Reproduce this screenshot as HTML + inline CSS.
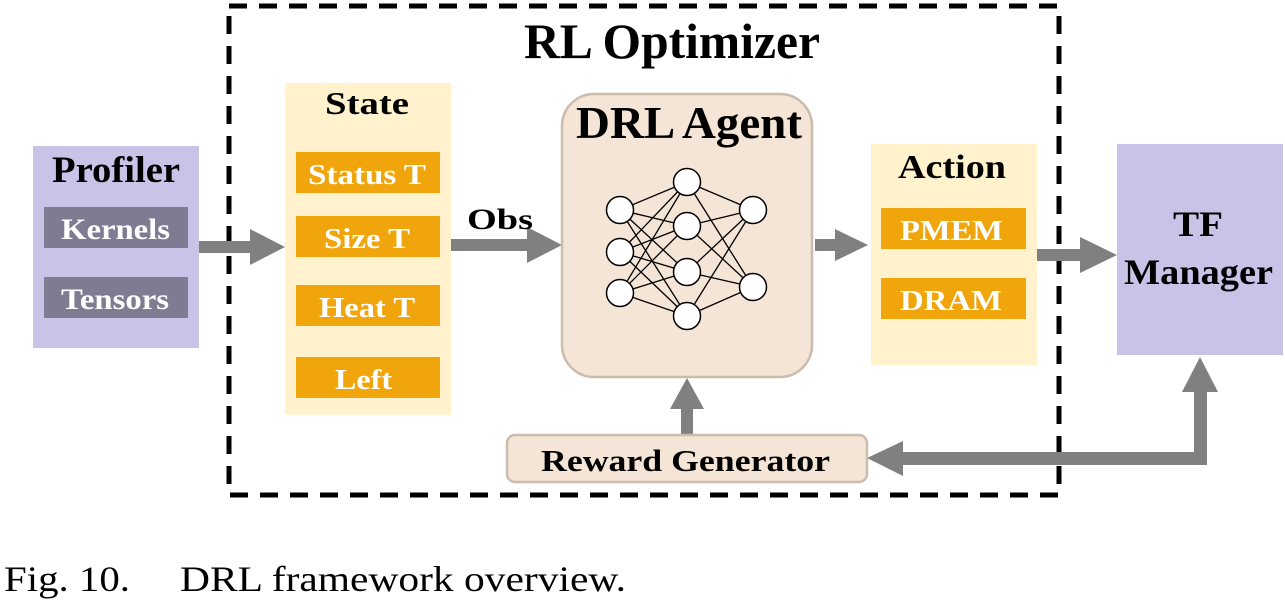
<!DOCTYPE html>
<html><head><meta charset="utf-8"><style>
html,body{margin:0;padding:0;background:#fff;}
svg{display:block;}
</style></head><body>
<svg width="1285" height="604" viewBox="0 0 1285 604" xmlns="http://www.w3.org/2000/svg" font-family="'Liberation Serif', serif" font-weight="bold">
<rect x="229" y="6" width="830" height="489" fill="none" stroke="#000" stroke-width="5" stroke-dasharray="18,12"/>
<text x="524" y="58" font-size="50" textLength="296" lengthAdjust="spacingAndGlyphs">RL Optimizer</text>

<!-- Profiler -->
<rect x="33" y="146" width="166" height="202" fill="#c9c3e8"/>
<text x="52" y="182" font-size="37" textLength="128" lengthAdjust="spacingAndGlyphs">Profiler</text>
<rect x="44" y="207" width="144" height="41" fill="#7f7b93"/>
<text x="61" y="239" font-size="30" fill="#fff" textLength="109" lengthAdjust="spacingAndGlyphs">Kernels</text>
<rect x="44" y="277" width="144" height="41" fill="#7f7b93"/>
<text x="61" y="309" font-size="30" fill="#fff" textLength="108" lengthAdjust="spacingAndGlyphs">Tensors</text>

<!-- State -->
<rect x="285" y="83" width="166" height="332" fill="#fff2cc"/>
<text x="325" y="114" font-size="32" textLength="84" lengthAdjust="spacingAndGlyphs">State</text>
<rect x="296" y="152" width="144" height="41" fill="#f0a50c"/>
<text x="308" y="184" font-size="29" fill="#fff" textLength="118" lengthAdjust="spacingAndGlyphs">Status T</text>
<rect x="296" y="216" width="144" height="41" fill="#f0a50c"/>
<text x="324" y="248" font-size="29" fill="#fff" textLength="86" lengthAdjust="spacingAndGlyphs">Size T</text>
<rect x="296" y="285" width="144" height="41" fill="#f0a50c"/>
<text x="319" y="317" font-size="29" fill="#fff" textLength="96" lengthAdjust="spacingAndGlyphs">Heat T</text>
<rect x="296" y="357" width="144" height="41" fill="#f0a50c"/>
<text x="335" y="389" font-size="29" fill="#fff" textLength="57" lengthAdjust="spacingAndGlyphs">Left</text>

<g fill="#808080">
<polygon points="199,241 250,241 250,229 285,247 250,265 250,253 199,253"/>
<polygon points="451,239 527,239 527,227 562,245 527,263 527,251 451,251"/>
<polygon points="815,239 835,239 835,229 868,245 835,261 835,251 815,251"/>
<polygon points="1037,249 1080,249 1080,237 1117,255 1080,273 1080,261 1037,261"/>
<polygon points="681,435 681,409 670,409 687,378 704,409 693,409 693,435"/>
<polygon points="1194,465 1194,392 1182,392 1200,357 1218,392 1207,392 1207,465 903,465 903,476 867,458 903,441 903,452 1194,452"/>
</g>
<text x="467" y="229" font-size="30" textLength="66" lengthAdjust="spacingAndGlyphs">Obs</text>

<!-- DRL Agent -->
<rect x="562" y="94" width="250" height="283" rx="32" fill="#f5e5d6" stroke="#cbbcae" stroke-width="2.5"/>
<text x="576" y="138" font-size="45" textLength="226" lengthAdjust="spacingAndGlyphs">DRL Agent</text>
<g stroke="#000" stroke-width="1.3">
<line x1="620" y1="210" x2="687" y2="182"/><line x1="620" y1="210" x2="687" y2="226"/><line x1="620" y1="210" x2="687" y2="272"/><line x1="620" y1="210" x2="687" y2="316"/>
<line x1="620" y1="252" x2="687" y2="182"/><line x1="620" y1="252" x2="687" y2="226"/><line x1="620" y1="252" x2="687" y2="272"/><line x1="620" y1="252" x2="687" y2="316"/>
<line x1="620" y1="293" x2="687" y2="182"/><line x1="620" y1="293" x2="687" y2="226"/><line x1="620" y1="293" x2="687" y2="272"/><line x1="620" y1="293" x2="687" y2="316"/>
<line x1="687" y1="182" x2="753" y2="210"/><line x1="687" y1="182" x2="753" y2="287"/>
<line x1="687" y1="226" x2="753" y2="210"/><line x1="687" y1="226" x2="753" y2="287"/>
<line x1="687" y1="272" x2="753" y2="210"/><line x1="687" y1="272" x2="753" y2="287"/>
<line x1="687" y1="316" x2="753" y2="210"/><line x1="687" y1="316" x2="753" y2="287"/>
</g>
<g fill="#fff" stroke="#000" stroke-width="1.5">
<circle cx="620" cy="210" r="13.5"/><circle cx="620" cy="252" r="13.5"/><circle cx="620" cy="293" r="13.5"/>
<circle cx="687" cy="182" r="13.5"/><circle cx="687" cy="226" r="13.5"/><circle cx="687" cy="272" r="13.5"/><circle cx="687" cy="316" r="13.5"/>
<circle cx="753" cy="210" r="13.5"/><circle cx="753" cy="287" r="13.5"/>
</g>

<!-- Action -->
<rect x="871" y="144" width="166" height="221" fill="#fff2cc"/>
<text x="898" y="178" font-size="34" textLength="108" lengthAdjust="spacingAndGlyphs">Action</text>
<rect x="881" y="208" width="145" height="41" fill="#f0a50c"/>
<text x="900" y="240" font-size="29" fill="#fff" textLength="103" lengthAdjust="spacingAndGlyphs">PMEM</text>
<rect x="881" y="278" width="145" height="41" fill="#f0a50c"/>
<text x="900" y="310" font-size="29" fill="#fff" textLength="102" lengthAdjust="spacingAndGlyphs">DRAM</text>

<!-- TF Manager -->
<rect x="1117" y="144" width="166" height="211" fill="#c9c3e8"/>
<text x="1173" y="236" font-size="36" textLength="50" lengthAdjust="spacingAndGlyphs">TF</text>
<text x="1124" y="284" font-size="36" textLength="149" lengthAdjust="spacingAndGlyphs">Manager</text>

<!-- Reward Generator -->
<rect x="507" y="435" width="360" height="47" rx="8" fill="#f5e5d6" stroke="#cbbcae" stroke-width="2.5"/>
<text x="541" y="471" font-size="31" textLength="289" lengthAdjust="spacingAndGlyphs">Reward Generator</text>

<!-- caption -->
<text x="4" y="591" font-size="36" font-weight="normal" textLength="126" lengthAdjust="spacingAndGlyphs">Fig. 10.</text>
<text x="180" y="591" font-size="36" font-weight="normal" textLength="446" lengthAdjust="spacingAndGlyphs">DRL framework overview.</text>
</svg>
</body></html>
